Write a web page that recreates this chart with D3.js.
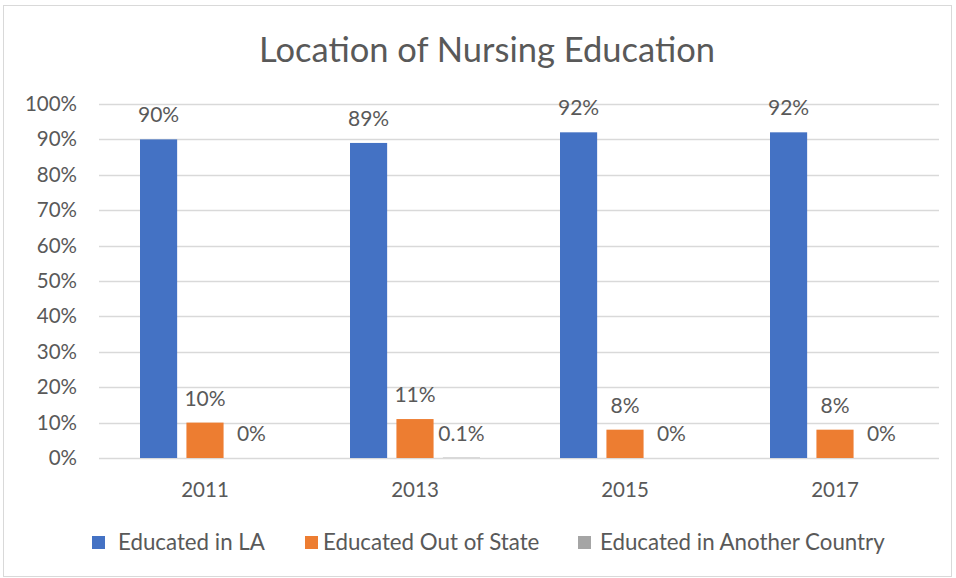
<!DOCTYPE html>
<html>
<head>
<meta charset="utf-8">
<script src="https://cdn.jsdelivr.net/npm/d3@7"></script>
<style>
body { margin: 0; background: #fff; }
text { font-family: Lato, "Open Sans", sans-serif; fill: #595959; }
</style>
</head>
<body>
<div id="chart"></div>
<script>
const years = ["2011", "2013", "2015", "2017"]
const seriesNames = ["Educated in LA", "Educated Out of State", "Educated in Another Country"]
const seriesColors = ["#4472c4", "#ed7d31", "#a5a5a5"]
const inLA = [90, 89, 92, 92]
const outOfState = [10, 11, 8, 8]
const anotherCountry = [0, 0.1, 0, 0]
const labels = [
	["90%", "89%", "92%", "92%"],
	["10%", "11%", "8%", "8%"],
	["0%", "0.1%", "0%", "0%"]
]
const yTicks = [0, 10, 20, 30, 40, 50, 60, 70, 80, 90, 100]

const series = [inLA, outOfState, anotherCountry]

const W = 956, H = 578
const svg = d3.select("#chart").append("svg").attr("width", W).attr("height", H)

// chart border
svg.append("rect").attr("x", 3.5).attr("y", 5.5).attr("width", 948).attr("height", 571)
	.attr("fill", "#fff").attr("stroke", "#d9d9d9")

svg.append("text").attr("x", 487).attr("y", 62).attr("text-anchor", "middle")
	.style("font-size", "34.5px").text("Location of Nursing Education")

const xs = d3.scaleBand().domain(years).range([99, 939])
const ys = d3.scaleLinear().domain([0, 100]).range([458, 104])
const xInner = d3.scaleBand().domain(d3.range(3)).range([41, 171]).paddingInner(0.2)

// gridlines
svg.append("g").selectAll("line").data(yTicks).join("line")
	.attr("x1", 99).attr("x2", 939)
	.attr("y1", d => Math.round(ys(d)) + 0.5).attr("y2", d => Math.round(ys(d)) + 0.5)
	.attr("stroke", "#d9d9d9").attr("stroke-width", 1.3)

// y axis labels
svg.append("g").selectAll("text").data(yTicks).join("text")
	.attr("x", 77).attr("y", d => ys(d) + 7).attr("text-anchor", "end")
	.style("font-size", "20.5px").text(d => d + "%")

// x axis labels
svg.append("g").selectAll("text").data(years).join("text")
	.attr("x", d => xs(d) + xs.bandwidth() / 2 + 1).attr("y", 497).attr("text-anchor", "middle")
	.style("font-size", "20.5px").text(d => d)

// bars and labels
series.forEach((vals, s) => {
	const g = svg.append("g")
	g.selectAll("rect").data(vals).join("rect")
		.attr("x", (d, i) => xs(years[i]) + xInner(s))
		.attr("y", d => ys(d))
		.attr("width", xInner.bandwidth())
		.attr("height", d => ys(0) - ys(d))
		.attr("fill", seriesColors[s])
	g.selectAll("text").data(vals).join("text")
		.attr("x", (d, i) => xs(years[i]) + xInner(s) + xInner.bandwidth() / 2)
		.attr("y", d => ys(d) - 17)
		.attr("text-anchor", "middle")
		.style("font-size", "21px")
		.text((d, i) => labels[s][i])
})

// legend
const legendX = [92, 305, 578]
const legendTextX = [118, 323, 600]
const legend = svg.append("g")
seriesNames.forEach((name, s) => {
	legend.append("rect").attr("x", legendX[s]).attr("y", 536).attr("width", 13).attr("height", 13)
		.attr("fill", seriesColors[s])
	legend.append("text").attr("x", legendTextX[s]).attr("y", 550)
		.style("font-size", "22.3px").text(name)
})
</script>
</body>
</html>
